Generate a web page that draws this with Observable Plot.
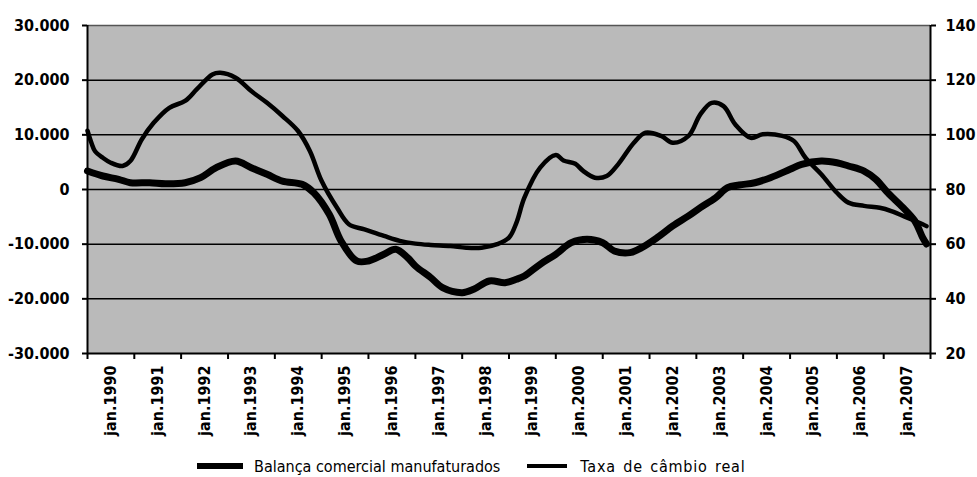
<!DOCTYPE html>
<html>
<head>
<meta charset="utf-8">
<script src="https://cdn.jsdelivr.net/npm/d3@7"></script>
<script src="https://cdn.jsdelivr.net/npm/@observablehq/plot@0.6"></script>
<style>
  html, body { margin: 0; padding: 0; background: #fff; }
  body { width: 977px; height: 477px; overflow: hidden; font-family: "DejaVu Sans Condensed", "DejaVu Sans", sans-serif; }
  #legend { display: flex; justify-content: flex-start; align-items: center; height: 22px; font-size: 16px; color: #000; padding-left: 197px; }
  #legend .sw { background: #000; display: inline-block; }
</style>
</head>
<body>
<div id="chart"></div>
<div id="legend">
  <span class="sw" style="width:46px;height:6px;margin-right:11px"></span>
  <span id="lab1"></span>
  <span class="sw" style="width:40px;height:4px;margin-left:27px;margin-right:13px"></span>
  <span id="lab2" style="word-spacing:2px;letter-spacing:0.8px"></span>
</div>
<script>
// ---- Data ----
const seriesNames = ["Balança comercial manufaturados", "Taxa de câmbio real"];

const balMonths = ["1990-01","1990-05","1990-09","1990-12","1991-05","1991-09","1992-02","1992-06","1992-10","1993-03","1993-07","1993-11","1994-03","1994-08","1994-11","1995-03","1995-06","1995-10","1996-01","1996-05","1996-08","1996-11","1997-01","1997-05","1997-08","1998-01","1998-04","1998-08","1998-12","1999-03","1999-05","1999-09","2000-01","2000-05","2000-09","2001-01","2001-04","2001-08","2001-11","2002-03","2002-07","2002-11","2003-02","2003-06","2003-09","2003-12","2004-04","2004-08","2005-01","2005-04","2005-09","2006-01","2006-04","2006-08","2006-11","2007-02","2007-06","2007-09","2007-11","2007-12"];
const balValues = [3380,2470,1860,1240,1240,1060,1240,2160,3990,5210,3990,2780,1550,950,-580,-4530,-9410,-13070,-13070,-11850,-10930,-12470,-13990,-16120,-17950,-18870,-18250,-16730,-17040,-16420,-15810,-13680,-11850,-9730,-9100,-9730,-11240,-11550,-10640,-8810,-6670,-4840,-3330,-1500,330,820,1240,2160,3690,4610,5210,4900,4300,3380,1860,-580,-3330,-5760,-8810,-9960];

const taxaMonths = ["1990-01","1990-02","1990-03","1990-05","1990-07","1990-10","1990-12","1991-03","1991-06","1991-10","1992-02","1992-05","1992-09","1992-11","1993-03","1993-07","1993-11","1994-03","1994-07","1994-10","1995-01","1995-05","1995-08","1995-12","1996-05","1996-09","1997-01","1997-05","1997-10","1998-02","1998-06","1998-10","1999-01","1999-03","1999-05","1999-09","2000-01","2000-03","2000-06","2000-08","2000-11","2001-02","2001-05","2001-09","2001-12","2002-04","2002-07","2002-11","2003-02","2003-05","2003-08","2003-11","2004-03","2004-06","2004-11","2005-02","2005-05","2005-09","2006-01","2006-04","2006-08","2006-12","2007-03","2007-08","2007-11","2007-12"];
const taxaValues = [101.5,97,94,91.6,89.8,88.6,90.4,98.4,104.4,109.9,112.4,116.6,122.1,122.7,120.9,116,111.7,106.9,101.4,94.1,83.1,73.3,67.3,65.4,63,61.2,60.2,59.7,59.3,58.7,58.7,60,62.4,68,77,88,92.6,90.6,89.4,86.8,84.3,84.9,89.2,97.1,100.8,99.6,97.1,99.6,107.5,111.7,110.5,103.8,98.9,100.2,99.6,97.7,91.6,85.6,78.8,75.2,74,73.3,72.1,69.1,67.3,66.6];

const years = [1990,1991,1992,1993,1994,1995,1996,1997,1998,1999,2000,2001,2002,2003,2004,2005,2006,2007];
const leftTicks = [-30000,-20000,-10000,0,10000,20000,30000];
const rightTicks = [20,40,60,80,100,120,140];

// ---- Build ----
const parse = d3.utcParse("%Y-%m");
const bal = balMonths.map((m, i) => ({date: parse(m), value: balValues[i]}));
const taxa = taxaMonths.map((m, i) => ({date: parse(m), value: taxaValues[i]}));
// right axis (20..140) mapped onto left axis (-30000..30000)
const toLeft = v => (v - 80) * 500;
const janDates = years.concat([2008]).map(y => new Date(Date.UTC(y, 0, 1)));
const labelData = years.map(y => ({date: new Date(Date.UTC(y, 6, 1)), label: "jan." + y}));
const fmt = d3.formatLocale({decimal: ",", thousands: ".", grouping: [3], currency: ["", ""], minus: "-"}).format(",d");
const x0 = janDates[0], x1 = janDates[janDates.length - 1];

const font = '"DejaVu Sans Condensed", "DejaVu Sans", sans-serif';
const chart = Plot.plot({
  width: 977, height: 455,
  marginLeft: 87, marginRight: 47, marginTop: 25, marginBottom: 102,
  style: {fontFamily: font, fontSize: "16px", color: "#000", background: "#fff", overflow: "visible"},
  x: {type: "utc", domain: [x0, x1], label: null},
  y: {domain: [-30000, 30000], label: null},
  marks: [
    Plot.frame({fill: "#bababa", stroke: null}),
    Plot.ruleY(leftTicks.filter(d => Math.abs(d) < 30000), {stroke: "#000", strokeWidth: 1.5}),
    Plot.ruleY([30000], {stroke: "#555", strokeWidth: 1.5}),
    Plot.lineY(bal, {x: "date", y: "value", stroke: "#000", strokeWidth: 7, curve: "catmull-rom"}),
    Plot.lineY(taxa, {x: "date", y: d => toLeft(d.value), stroke: "#000", strokeWidth: 4.5, curve: "catmull-rom"}),
    Plot.ruleY([-30000], {stroke: "#000", strokeWidth: 2}),
    Plot.ruleX([x0, x1], {stroke: "#000", strokeWidth: 2}),
    Plot.axisY(leftTicks, {anchor: "left", label: null, tickSize: 5, tickPadding: 13, tickFormat: fmt, strokeWidth: 2, fontWeight: "bold", fontSize: 16}),
    Plot.axisY(rightTicks.map(toLeft), {anchor: "right", label: null, tickSize: 5, tickPadding: 10, tickFormat: d => String(d / 500 + 80), strokeWidth: 2, fontWeight: "bold", fontSize: 16}),
    Plot.axisX(janDates, {label: null, tickSize: 6, tickFormat: () => "", strokeWidth: 2}),
    Plot.text(labelData, {x: "date", y: -30000, text: "label", rotate: -90, textAnchor: "end", dy: 12, fontSize: 16, fontWeight: "bold"})
  ]
});
document.getElementById("chart").appendChild(chart);
document.getElementById("lab1").textContent = seriesNames[0];
document.getElementById("lab2").textContent = seriesNames[1];
</script>
</body>
</html>
